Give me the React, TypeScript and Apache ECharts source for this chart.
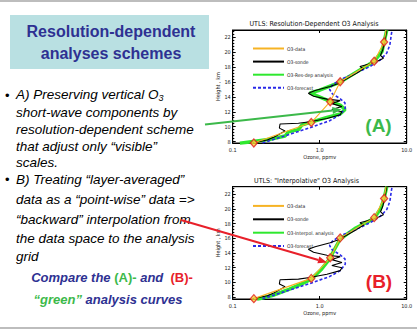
import React, { useEffect, useRef } from "react";
import * as echarts from "echarts";

// ---------- DATA ----------
const ozoneTickLabels = ["0.1", "1.0", "10.0"];
const heightRangeA = [7.8, 23.0];
const heightRangeB = [7.75, 23.0];

// O3 data points (layer data, red diamonds) [ozone ppmv, height km]
const o3DataPoints: [number, number][] = [
  [0.175, 7.8], [0.8, 10.55], [1.32, 13.35], [1.72, 16.05], [4.23, 18.8], [5.5, 21.4],
];
const o3DataLine: [number, number][] = [
  [0.175, 7.8], [0.8, 10.55], [1.32, 13.35], [1.72, 16.05], [4.23, 18.8], [5.5, 21.4], [5.8, 23.0],
];
// O3 sonde profile
const o3Sonde: [number, number][] = [
  [0.17, 7.8], [0.25, 8.2], [0.3, 8.6], [0.4, 9.4], [0.344, 9.8], [0.35, 10.36], [0.57, 10.45],
  [0.77, 10.66], [1.21, 11.1], [1.72, 11.6], [1.8, 12.0], [1.38, 12.3], [1.8, 12.7], [1.38, 13.1],
  [1.72, 13.5], [1.21, 13.7], [0.85, 14.1], [0.74, 14.5], [0.886, 14.85], [1.32, 15.4], [1.64, 15.8],
  [2.67, 17.2], [3.2, 17.8], [2.9, 18.1], [3.6, 18.4], [4.6, 18.8], [5.4, 19.2], [5.0, 19.6],
  [5.3, 20.3], [5.6, 21.5], [5.9, 23.0],
];
// O3 forecast profile
const o3Forecast: [number, number][] = [
  [0.22, 7.8], [0.3, 8.3], [0.49, 9.1], [0.84, 10.0], [1.3, 10.8], [1.72, 11.6], [1.97, 12.5],
  [1.95, 13.2], [1.7, 13.8], [1.4, 14.4], [1.3, 15.0], [1.4, 15.6], [1.7, 16.3], [2.6, 17.2],
  [3.8, 18.1], [5.0, 19.0], [5.9, 19.9], [6.4, 21.0], [6.7, 22.6], [6.8, 23.0],
];
// (A) resolution-dependent analysis
const o3ResDepAnalysis: [number, number][] = [
  [0.121, 7.76], [0.269, 8.3], [0.4, 8.74], [0.437, 9.3], [0.57, 9.6], [0.62, 10.2], [0.8, 10.6],
  [1.21, 11.25], [1.72, 11.7], [1.96, 12.3], [1.72, 12.9], [1.32, 13.4], [1.09, 13.8], [0.77, 14.55],
  [1.0, 14.9], [1.72, 16.0], [4.23, 18.8], [5.2, 20.1], [5.5, 21.4], [5.9, 23.0],
];
// (B) interpolative analysis
const o3InterpolAnalysis: [number, number][] = [
  [0.19, 7.7], [0.3, 8.3], [0.45, 9.1], [0.62, 9.8], [0.8, 10.45], [1.05, 11.8], [1.32, 13.3],
  [1.45, 14.3], [1.72, 15.9], [2.6, 17.4], [4.23, 18.7], [5.0, 20.0], [5.5, 21.4], [5.9, 23.0],
];

// ---------- STYLE ----------
const NARROW = "'Liberation Sans Narrow', 'DejaVu Sans Condensed', 'Liberation Sans', Arial, sans-serif";
const SANS = "'Liberation Sans', Arial, sans-serif";
const C_ORANGE = "#f6b324";
const C_GREEN = "#2ee82e";
const C_BLUE = "#2a2ae8";
const C_RED = "#e01b1b";
const C_TXT_BLUE = "#2e3192";
const C_TXT_GREEN = "#3cb94a";
const C_TXT_RED = "#e8202a";
const BODY_FONT = `italic 13.5px ${SANS}`;

function arrowHead(x1: number, y1: number, x2: number, y2: number, len: number, half: number) {
  const dx = x2 - x1, dy = y2 - y1;
  const d = Math.sqrt(dx * dx + dy * dy);
  const ux = dx / d, uy = dy / d;
  const bx = x2 - ux * len, by = y2 - uy * len;
  const px = -uy, py = ux;
  return [[x2, y2], [bx + px * half, by + py * half], [bx - px * half, by - py * half]];
}

function seriesFor(idx: number, analysisName: string, analysis: [number, number][]) {
  const ax = { xAxisIndex: idx * 2, yAxisIndex: idx * 2 };
  return [
    { ...ax, type: "line", name: analysisName, data: analysis, symbol: "none", z: 2,
      lineStyle: { color: C_GREEN, width: 3.5 }, itemStyle: { color: C_GREEN } },
    { ...ax, type: "line", name: "O3-forecast", data: o3Forecast, symbol: "none", z: 3,
      lineStyle: { color: C_BLUE, width: 1.6, type: [3, 2] }, itemStyle: { color: C_BLUE } },
    { ...ax, type: "line", name: "O3-sonde", data: o3Sonde, symbol: "none", z: 4,
      lineStyle: { color: "#000", width: 1.1 }, itemStyle: { color: "#000" } },
    { ...ax, type: "line", name: "O3-data", data: o3DataLine, symbol: "none", z: 5,
      lineStyle: { color: C_ORANGE, width: 1.1 }, itemStyle: { color: C_ORANGE } },
    { ...ax, type: "scatter", name: "O3-data points", data: o3DataPoints, symbol: "diamond",
      symbolSize: [7, 8], z: 6,
      itemStyle: { color: "#f7d43a", borderColor: C_RED, borderWidth: 1.3 } },
  ];
}

function axesFor(top: boolean, range: number[]) {
  const xBottom = {
    type: "log", logBase: 10, min: 0.1, max: 10, position: "bottom",
    gridIndex: top ? 0 : 1,
    name: "Ozone, ppmv", nameLocation: "middle", nameGap: 11,
    nameTextStyle: { fontFamily: NARROW, fontSize: 5.5, color: "#222" },
    axisLine: { show: true, lineStyle: { color: "#000", width: 1 } },
    axisTick: { show: true, inside: true, length: 3, lineStyle: { color: "#000" } },
    axisLabel: {
      fontFamily: NARROW, fontSize: 5.5, color: "#222", margin: 4,
      formatter: (v: number) => {
        const i = Math.round(Math.log10(v)) + 1;
        return ozoneTickLabels[i] ?? "";
      },
    },
    splitLine: { show: false },
  };
  const xTop = {
    type: "log", logBase: 10, min: 0.1, max: 10, position: "top",
    gridIndex: top ? 0 : 1,
    axisLine: { show: true, lineStyle: { color: "#000", width: 1 } },
    axisTick: { show: true, inside: true, length: 3, lineStyle: { color: "#000" } },
    axisLabel: { show: false }, splitLine: { show: false },
  };
  const yLeft = {
    type: "value", min: range[0], max: range[1], splitNumber: 7, position: "left",
    gridIndex: top ? 0 : 1,
    name: "Height , km", nameLocation: "middle", nameGap: 12, nameRotate: 90,
    nameTextStyle: { fontFamily: NARROW, fontSize: 5.5, color: "#222" },
    axisLine: { show: true, lineStyle: { color: "#000", width: 1 } },
    axisTick: { show: true, inside: true, length: 3, lineStyle: { color: "#000" } },
    minorTick: { show: true, splitNumber: 5, length: 1.6, lineStyle: { color: "#000" } },
    axisLabel: {
      fontFamily: NARROW, fontSize: 5.5, color: "#222", margin: 2,
      showMinLabel: false, showMaxLabel: false,
      formatter: (v: number) => (Math.abs(v - Math.round(v)) < 1e-6 && Math.round(v) % 2 === 0 ? String(Math.round(v)) : ""),
    },
    splitLine: { show: false },
  };
  const yRight = {
    type: "value", min: range[0], max: range[1], splitNumber: 7, position: "right",
    gridIndex: top ? 0 : 1,
    axisLine: { show: true, lineStyle: { color: "#000", width: 1 } },
    axisTick: { show: true, inside: true, length: 3, lineStyle: { color: "#000" } },
    minorTick: { show: true, splitNumber: 5, length: 1.6, lineStyle: { color: "#000" } },
    axisLabel: { show: false }, splitLine: { show: false },
  };
  return { x: [xBottom, xTop], y: [yLeft, yRight] };
}

export default function App() {
  const ref = useRef<HTMLDivElement>(null);
  useEffect(() => {
    if (!ref.current) return;
    const chart = echarts.init(ref.current, null, { renderer: "svg" });
    const aA = axesFor(true, heightRangeA);
    const aB = axesFor(false, heightRangeB);

    const lineAt = (text: string, y: number) => ({
      type: "text", x: 16, y, z: 20,
      style: { text, font: BODY_FONT, fill: "#000", align: "left", verticalAlign: "middle" },
    });
    const bullet = (y: number) => ({
      type: "text", x: 5, y, z: 20,
      style: { text: "•", font: `13px ${SANS}`, fill: "#000", align: "left", verticalAlign: "middle" },
    });

    const gHead = arrowHead(205, 124.5, 341.5, 109.5, 9, 3.5);
    const rHead = arrowHead(181, 220, 327, 262.5, 9, 3.5);

    const option: any = {
      animation: false,
      backgroundColor: "#ffffff",
      grid: [
        { left: 232.7, top: 30, width: 174, height: 113, show: true, borderColor: "#000", borderWidth: 1, containLabel: false },
        { left: 232.7, top: 186.7, width: 174, height: 112.3, show: true, borderColor: "#000", borderWidth: 1, containLabel: false },
      ],
      xAxis: [...aA.x, ...aB.x],
      yAxis: [...aA.y, ...aB.y],
      legend: [
        {
          orient: "vertical", left: 247, top: 40.3, itemWidth: 31, itemHeight: 8, itemGap: 6.7,
          data: ["O3-data", "O3-sonde", "O3-Res-dep analysis", "O3-forecast"],
          itemStyle: { opacity: 0 }, selectedMode: false,
          textStyle: { fontFamily: NARROW, fontSize: 5, color: "#222", padding: [0, 0, 0, -2] },
        },
        {
          orient: "vertical", left: 247, top: 197.7, itemWidth: 31, itemHeight: 8, itemGap: 7,
          data: ["O3-data", "O3-sonde", "O3-Interpol. analysis", "O3-forecast"],
          itemStyle: { opacity: 0 }, selectedMode: false,
          textStyle: { fontFamily: NARROW, fontSize: 5, color: "#222", padding: [0, 0, 0, -2] },
        },
      ],
      series: [
        ...seriesFor(0, "O3-Res-dep analysis", o3ResDepAnalysis),
        ...seriesFor(1, "O3-Interpol. analysis", o3InterpolAnalysis),
      ],
      graphic: [
        { type: "rect", shape: { x: 0, y: 0, width: 417, height: 2 }, style: { fill: "#bdbdbd" }, z: 1 },
        { type: "rect", shape: { x: 0, y: 327, width: 417, height: 2 }, style: { fill: "#bdbdbd" }, z: 1 },
        { type: "rect", shape: { x: 10, y: 15, width: 199, height: 54 }, style: { fill: "#b9e0e2" }, z: 1 },
        { type: "text", x: 111, y: 31, z: 20,
          style: { text: "Resolution-dependent", font: `bold 16px ${SANS}`, fill: C_TXT_BLUE, align: "center", verticalAlign: "middle" } },
        { type: "text", x: 111, y: 53.5, z: 20,
          style: { text: "analyses schemes", font: `bold 16px ${SANS}`, fill: C_TXT_BLUE, align: "center", verticalAlign: "middle" } },

        bullet(95),
        { type: "text", x: 16, y: 94.7, z: 20,
          style: {
            text: "{m|A) Preserving vertical O}{s|3}",
            align: "left", verticalAlign: "middle",
            rich: {
              m: { font: BODY_FONT, fill: "#000", lineHeight: 16 },
              s: { font: `italic 9px ${SANS}`, fill: "#000", lineHeight: 7.5, verticalAlign: "bottom" },
            },
          } },
        lineAt("short-wave components by", 112.1),
        lineAt("resolution-dependent scheme", 129.4),
        lineAt("that adjust only \u201cvisible\u201d", 146.1),
        lineAt("scales.", 162.7),
        bullet(179.6), lineAt("B) Treating \u201clayer-averaged\u201d", 179.4),
        lineAt("data as a \u201cpoint-wise\u201d data =>", 199.7),
        lineAt("\u201cbackward\u201d interpolation from", 219.7),
        lineAt("the data space to the analysis", 238.7),
        lineAt("grid", 256),

        { type: "text", x: 112, y: 277, z: 20,
          style: {
            text: "{b|Compare the }{g|(A)-}{b| and  }{r|(B)-}",
            align: "center", verticalAlign: "middle",
            rich: {
              b: { font: `italic bold 13px ${SANS}`, fill: C_TXT_BLUE },
              g: { font: `bold 13px ${SANS}`, fill: C_TXT_GREEN },
              r: { font: `bold 13px ${SANS}`, fill: C_TXT_RED },
            },
          } },
        { type: "text", x: 108, y: 299.5, z: 20,
          style: {
            text: "{g|\u201cgreen\u201d}{b| analysis curves}",
            align: "center", verticalAlign: "middle",
            rich: {
              b: { font: `italic bold 13px ${SANS}`, fill: C_TXT_BLUE },
              g: { font: `italic bold 13px ${SANS}`, fill: C_TXT_GREEN },
            },
          } },

        { type: "text", x: 314, y: 24, z: 20,
          style: { text: "UTLS: Resolution-Dependent O3 Analysis", font: `7px ${NARROW}`, fill: "#111", align: "center", verticalAlign: "middle" } },
        { type: "text", x: 306.5, y: 180.5, z: 20,
          style: { text: "UTLS: \"Interpolative\" O3 Analysis", font: `7px ${NARROW}`, fill: "#111", align: "center", verticalAlign: "middle" } },

        { type: "text", x: 378.5, y: 125.5, z: 20,
          style: { text: "(A)", font: `bold 19px ${SANS}`, fill: C_TXT_GREEN, align: "center", verticalAlign: "middle" } },
        { type: "text", x: 379, y: 281.5, z: 20,
          style: { text: "(B)", font: `bold 19px ${SANS}`, fill: C_TXT_RED, align: "center", verticalAlign: "middle" } },

        { type: "line", z: 30, shape: { x1: 205, y1: 124.5, x2: gHead[1][0] * 0.5 + gHead[2][0] * 0.5, y2: gHead[1][1] * 0.5 + gHead[2][1] * 0.5 },
          style: { stroke: C_TXT_GREEN, lineWidth: 2 } },
        { type: "polygon", z: 30, shape: { points: gHead }, style: { fill: C_TXT_GREEN } },
        { type: "line", z: 30, shape: { x1: 181, y1: 220, x2: rHead[1][0] * 0.5 + rHead[2][0] * 0.5, y2: rHead[1][1] * 0.5 + rHead[2][1] * 0.5 },
          style: { stroke: C_TXT_RED, lineWidth: 2 } },
        { type: "polygon", z: 30, shape: { points: rHead }, style: { fill: C_TXT_RED } },
      ],
    };
    chart.setOption(option);
    return () => chart.dispose();
  }, []);
  return (
    <div
      ref={ref}
      style={{ position: "absolute", left: 0, top: 0, width: 417, height: 329 }}
    />
  );
}
